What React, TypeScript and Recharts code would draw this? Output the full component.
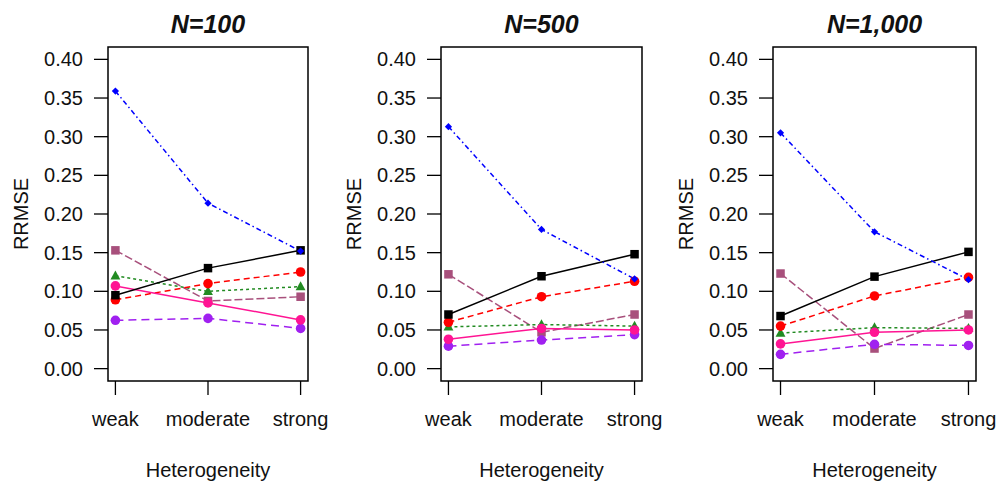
import React from "react";
import { LineChart, Line, XAxis, YAxis, ReferenceArea } from "recharts";

const categories = ["weak", "moderate", "strong"];
const panelTitles = ["N=100", "N=500", "N=1,000"];
const yTicks = [0, 0.05, 0.1, 0.15, 0.2, 0.25, 0.3, 0.35, 0.4];
const yAxisTitle = "RRMSE";
const xAxisTitle = "Heterogeneity";

// values per panel (N=100, N=500, N=1,000), each over weak/moderate/strong
const blueSeries = [
  [0.359, 0.214, 0.152],
  [0.313, 0.18, 0.116],
  [0.305, 0.177, 0.115],
];
const blackSeries = [
  [0.095, 0.13, 0.153],
  [0.07, 0.1195, 0.148],
  [0.068, 0.119, 0.151],
];
const redSeries = [
  [0.089, 0.11, 0.125],
  [0.06, 0.093, 0.113],
  [0.055, 0.094, 0.118],
];
const greenSeries = [
  [0.12, 0.1, 0.106],
  [0.054, 0.057, 0.055],
  [0.046, 0.053, 0.052],
];
const maroonSeries = [
  [0.153, 0.0875, 0.093],
  [0.122, 0.047, 0.07],
  [0.123, 0.026, 0.07],
];
const pinkSeries = [
  [0.107, 0.085, 0.063],
  [0.038, 0.052, 0.05],
  [0.032, 0.047, 0.05],
];
const purpleSeries = [
  [0.0625, 0.065, 0.052],
  [0.029, 0.037, 0.044],
  [0.0185, 0.0315, 0.03],
];

type Marker = "square" | "circle" | "triangle" | "diamond";

const seriesDefs: {
  key: string;
  values: number[][];
  color: string;
  dash?: string;
  marker: Marker;
}[] = [
  { key: "maroon", values: maroonSeries, color: "#A8507C", dash: "8 3", marker: "square" },
  { key: "green", values: greenSeries, color: "#228B22", dash: "3 3", marker: "triangle" },
  { key: "purple", values: purpleSeries, color: "#A020F0", dash: "8 5", marker: "circle" },
  { key: "red", values: redSeries, color: "#FF0000", dash: "6 4", marker: "circle" },
  { key: "pink", values: pinkSeries, color: "#FF1493", marker: "circle" },
  { key: "black", values: blackSeries, color: "#000000", marker: "square" },
  { key: "blue", values: blueSeries, color: "#0000FF", dash: "5 3 1.5 3", marker: "diamond" },
];

const FONT = "'Liberation Sans', Arial, sans-serif";

// layout of each panel's plot box
const plotLeft = [108, 441, 773];
const plotRight = [308, 642, 976];
const plotTop = 47;
const plotBottom = 381;
const Y_AXIS_W = 108;
const RIGHT_M = 26;
const CHART_H = 486;

function makeDot(marker: Marker, color: string) {
  return (props: any) => {
    const { cx, cy, index } = props;
    if (cx == null || cy == null) return <g key={index} />;
    if (marker === "square") {
      const s = 8.5;
      return <rect key={index} x={cx - s / 2} y={cy - s / 2} width={s} height={s} fill={color} />;
    }
    if (marker === "circle") {
      return <circle key={index} cx={cx} cy={cy} r={4.8} fill={color} />;
    }
    if (marker === "triangle") {
      const h = 9;
      return (
        <polygon
          key={index}
          points={`${cx},${cy - h * 0.6} ${cx - h * 0.55},${cy + h * 0.4} ${cx + h * 0.55},${cy + h * 0.4}`}
          fill={color}
        />
      );
    }
    const d = 3.6;
    return (
      <polygon
        key={index}
        points={`${cx},${cy - d} ${cx + d},${cy} ${cx},${cy + d} ${cx - d},${cy}`}
        fill={color}
      />
    );
  };
}

function Panel({ p }: { p: number }) {
  const data = categories.map((c, i) => {
    const row: any = { x: i + 1, cat: c };
    seriesDefs.forEach((s) => {
      row[s.key] = s.values[p][i];
    });
    return row;
  });
  const chartLeft = plotLeft[p] - Y_AXIS_W;
  const plotW = plotRight[p] - plotLeft[p];
  const chartW = Y_AXIS_W + plotW + RIGHT_M;
  const xPad = (categories.length - 1) * 0.04;
  const yPad = 0.4 * 0.04;
  const xDomain: [number, number] = [1 - xPad, categories.length + xPad];
  const yDomain: [number, number] = [0 - yPad, 0.4 + yPad];
  return (
    <div style={{ position: "absolute", left: chartLeft, top: 0 }}>
      <LineChart
        width={chartW}
        height={CHART_H}
        data={data}
        margin={{ top: plotTop, right: RIGHT_M, bottom: 45, left: 0 }}
      >
        <XAxis
          dataKey="x"
          type="number"
          domain={xDomain}
          ticks={categories.map((_, i) => i + 1)}
          tickFormatter={(v: number) => categories[v - 1] ?? ""}
          axisLine={false}
          tickSize={14}
          tickMargin={17}
          height={60}
          tickLine={{ stroke: "#000", strokeWidth: 1.3 }}
          tick={{ fill: "#111", fontSize: 20, fontFamily: FONT }}
          interval={0}
          allowDataOverflow
        />
        <YAxis
          type="number"
          domain={yDomain}
          ticks={yTicks}
          tickFormatter={(v: number) => v.toFixed(2)}
          axisLine={false}
          width={Y_AXIS_W}
          tickSize={14}
          tickMargin={11}
          tickLine={{ stroke: "#000", strokeWidth: 1.3 }}
          tick={{ fill: "#111", fontSize: 20, fontFamily: FONT }}
          interval={0}
          allowDataOverflow
        />
        {seriesDefs.map((s) => (
          <Line
            key={s.key}
            dataKey={s.key}
            type="linear"
            stroke={s.color}
            strokeWidth={1.5}
            strokeDasharray={s.dash}
            dot={makeDot(s.marker, s.color)}
            activeDot={false}
            isAnimationActive={false}
          />
        ))}
        <ReferenceArea
          x1={xDomain[0]}
          x2={xDomain[1]}
          y1={yDomain[0]}
          y2={yDomain[1]}
          fill="none"
          fillOpacity={0}
          stroke="#000"
          strokeWidth={1.5}
          ifOverflow="visible"
        />
      </LineChart>
    </div>
  );
}

export default function App() {
  return (
    <div
      style={{
        position: "absolute",
        left: 0,
        top: 0,
        width: 1003,
        height: 486,
        background: "#fff",
        overflow: "hidden",
        fontFamily: FONT,
      }}
    >
      {panelTitles.map((_, p) => (
        <Panel key={p} p={p} />
      ))}
      <svg
        width={1003}
        height={486}
        style={{ position: "absolute", left: 0, top: 0, pointerEvents: "none" }}
      >
        {panelTitles.map((t, p) => {
          const cx = (plotLeft[p] + plotRight[p]) / 2;
          const lx = plotLeft[p] - 87;
          const cy = (plotTop + plotBottom) / 2;
          return (
            <g key={p}>
              <text
                x={cx}
                y={33}
                textAnchor="middle"
                fontFamily={FONT}
                fontWeight="bold"
                fontStyle="italic"
                fontSize={25}
                fill="#111"
              >
                {t}
              </text>
              <text
                x={cx}
                y={477}
                textAnchor="middle"
                fontFamily={FONT}
                fontSize={20}
                fill="#111"
              >
                {xAxisTitle}
              </text>
              <text
                x={lx}
                y={cy}
                transform={`rotate(-90 ${lx} ${cy})`}
                textAnchor="middle"
                dominantBaseline="central"
                fontFamily={FONT}
                fontSize={20}
                fill="#111"
              >
                {yAxisTitle}
              </text>
            </g>
          );
        })}
      </svg>
    </div>
  );
}
